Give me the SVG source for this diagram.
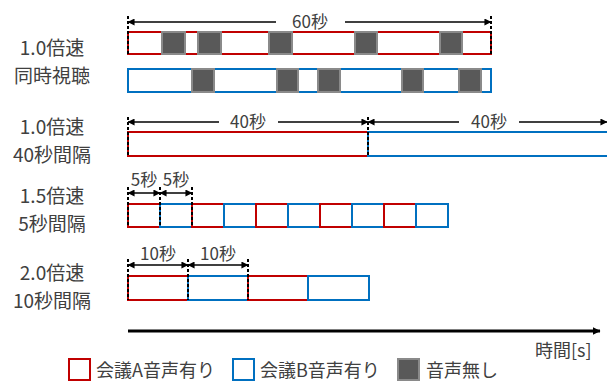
<svg xmlns="http://www.w3.org/2000/svg" width="607" height="385" viewBox="0 0 607 385">
<style>
text{font-family:"Noto Sans CJK JP","Noto Sans",sans-serif;fill:#404040}
.lbl{font-size:19px;text-anchor:middle}
.dim{font-size:17px;text-anchor:middle}
.leg{font-size:18px}
.a{fill:#fff;stroke:#C00000;stroke-width:2}
.b{fill:#fff;stroke:#0070C0;stroke-width:2}
.m{fill:#595959;stroke:#8a8a8a;stroke-width:2}
.dl{stroke:#000;stroke-width:1.5;fill:none}
.dash{stroke:#000;stroke-width:2;stroke-dasharray:3 2;fill:none}
.ax{stroke:#000;stroke-width:3;fill:none}
</style>
<defs>
<marker id="ah" viewBox="0 0 8 8" refX="7.5" refY="4" markerWidth="7" markerHeight="7" markerUnits="userSpaceOnUse" orient="auto-start-reverse">
<path d="M0,0 L8,4 L0,8 z" fill="#000"/>
</marker>
<marker id="ah2" viewBox="0 0 8 8" refX="7.5" refY="4" markerWidth="8" markerHeight="8" markerUnits="userSpaceOnUse" orient="auto">
<path d="M0,0 L8,4 L0,8 z" fill="#000"/>
</marker>
</defs>

<g id="labels">
<text class="lbl" x="52" y="55">1.0倍速</text>
<text class="lbl" x="52" y="83">同時視聴</text>
<text class="lbl" x="52" y="134">1.0倍速</text>
<text class="lbl" x="52" y="162">40秒間隔</text>
<text class="lbl" x="52" y="203">1.5倍速</text>
<text class="lbl" x="52" y="231">5秒間隔</text>
<text class="lbl" x="52" y="280">2.0倍速</text>
<text class="lbl" x="52" y="308">10秒間隔</text>
</g>

<g id="row1">
<rect class="a" x="128" y="32" width="363" height="22"/>
<rect class="m" x="162" y="32" width="23" height="22"/>
<rect class="m" x="198" y="32" width="23" height="22"/>
<rect class="m" x="269" y="32" width="23" height="22"/>
<rect class="m" x="355" y="32" width="22" height="22"/>
<rect class="m" x="440" y="32" width="22" height="22"/>
<rect class="b" x="128" y="69" width="363" height="23"/>
<rect class="m" x="192" y="69" width="22" height="23"/>
<rect class="m" x="277" y="69" width="21" height="23"/>
<rect class="m" x="318" y="69" width="22" height="23"/>
<rect class="m" x="402" y="69" width="21" height="23"/>
<rect class="m" x="459" y="69" width="22" height="23"/>
</g>

<g id="row2">
<rect class="a" x="128" y="132" width="240" height="24"/>
<path class="b" d="M608,132 H368 V156 H608"/>
</g>

<g id="row3">
<rect class="a" x="128" y="204" width="32" height="23"/>
<rect class="b" x="160" y="204" width="32" height="23"/>
<rect class="a" x="192" y="204" width="32" height="23"/>
<rect class="b" x="224" y="204" width="32" height="23"/>
<rect class="a" x="256" y="204" width="32" height="23"/>
<rect class="b" x="288" y="204" width="32" height="23"/>
<rect class="a" x="320" y="204" width="32" height="23"/>
<rect class="b" x="352" y="204" width="32" height="23"/>
<rect class="a" x="384" y="204" width="32" height="23"/>
<rect class="b" x="416" y="204" width="32" height="23"/>
</g>

<g id="row4">
<rect class="a" x="128" y="276" width="60" height="24"/>
<rect class="b" x="188" y="276" width="60" height="24"/>
<rect class="a" x="248" y="276" width="60" height="24"/>
<rect class="b" x="308" y="276" width="61" height="24"/>
</g>

<g id="connectors">
<path class="dash" d="M128,16 V54"/>
<path class="dash" d="M491,16 V54"/>
<line class="dl" x1="128" y1="22" x2="276" y2="22" marker-start="url(#ah)"/>
<line class="dl" x1="345" y1="22" x2="491" y2="22" marker-end="url(#ah)"/>

<path class="dash" d="M128,117 V156"/>
<path class="dash" d="M368,117 V156"/>
<line class="dl" x1="128" y1="122" x2="219" y2="122" marker-start="url(#ah)"/>
<line class="dl" x1="278" y1="122" x2="368" y2="122" marker-end="url(#ah)"/>
<line class="dl" x1="368" y1="122" x2="459" y2="122" marker-start="url(#ah)"/>
<line class="dl" x1="519" y1="122" x2="607" y2="122" marker-end="url(#ah)"/>

<path class="dash" d="M128,187 V227"/>
<path class="dash" d="M160,187 V227"/>
<path class="dash" d="M192,187 V227"/>
<line class="dl" x1="128" y1="193" x2="160" y2="193" marker-start="url(#ah)" marker-end="url(#ah)"/>
<line class="dl" x1="160" y1="193" x2="192" y2="193" marker-start="url(#ah)" marker-end="url(#ah)"/>

<path class="dash" d="M128,259 V300"/>
<path class="dash" d="M188,259 V300"/>
<path class="dash" d="M248,259 V300"/>
<line class="dl" x1="128" y1="265" x2="188" y2="265" marker-start="url(#ah)" marker-end="url(#ah)"/>
<line class="dl" x1="188" y1="265" x2="248" y2="265" marker-start="url(#ah)" marker-end="url(#ah)"/>

<line class="ax" x1="128" y1="331" x2="600" y2="331" marker-end="url(#ah2)"/>
</g>

<g id="dimlabels">
<text class="dim" x="310" y="28">60秒</text>
<text class="dim" x="248" y="128">40秒</text>
<text class="dim" x="489" y="128">40秒</text>
<text class="dim" x="144" y="186">5秒</text>
<text class="dim" x="176" y="186">5秒</text>
<text class="dim" x="158" y="260">10秒</text>
<text class="dim" x="218" y="260">10秒</text>
<text class="leg" x="535" y="357">時間[s]</text>
</g>

<g id="legend">
<rect class="a" x="69" y="359" width="21" height="21"/>
<text class="leg" x="96" y="377">会議A音声有り</text>
<rect class="b" x="233" y="359" width="21" height="21"/>
<text class="leg" x="260" y="377">会議B音声有り</text>
<rect class="m" x="398" y="359" width="21" height="21"/>
<text class="leg" x="426" y="377">音声無し</text>
</g>
</svg>
